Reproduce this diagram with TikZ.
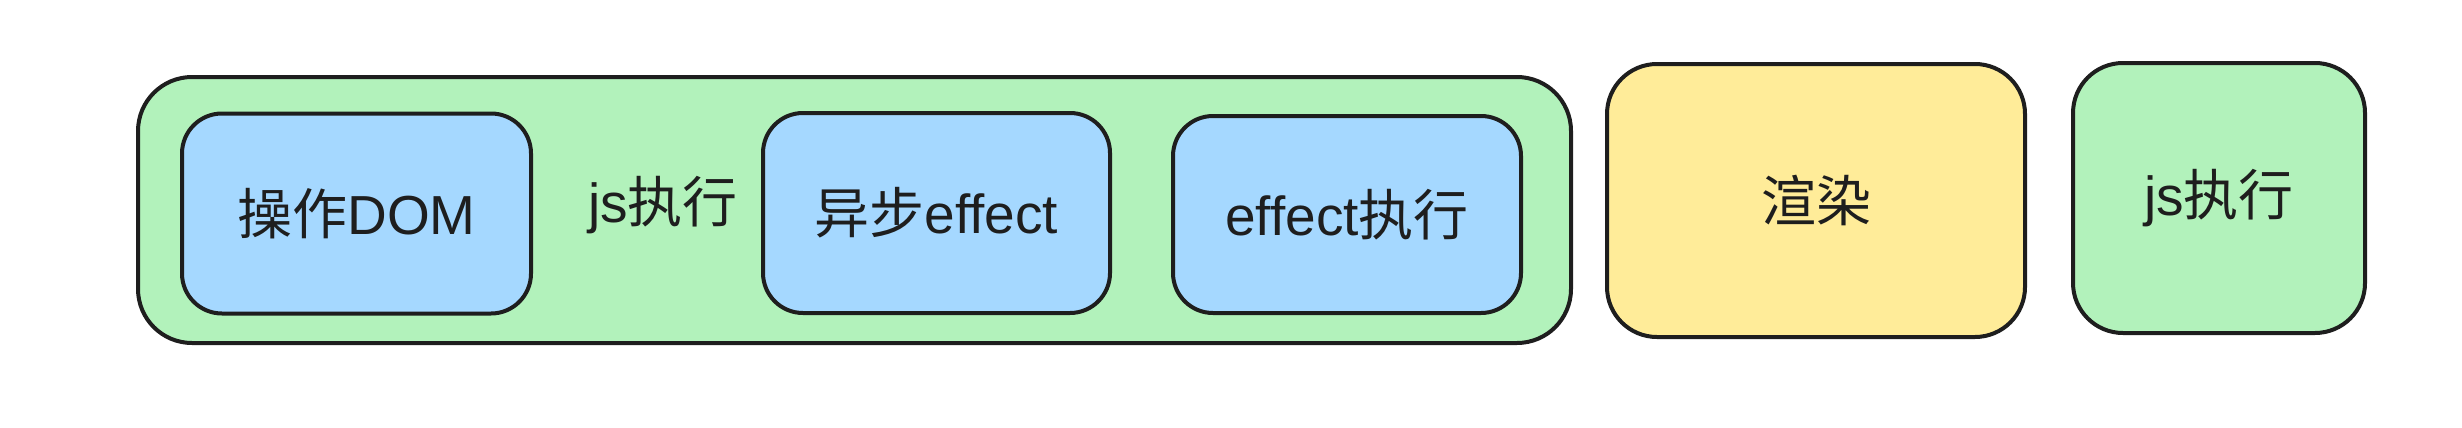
\documentclass[tikz,border=0pt]{standalone}
\usepackage{fontspec}
\setmainfont{Liberation Sans}
\newfontfamily\cjk{Noto Sans CJK SC}

\definecolor{inkblack}{HTML}{1E1E1E}
\definecolor{jsgreen}{HTML}{B2F2BB}
\definecolor{effectblue}{HTML}{A5D8FF}
\definecolor{renderyellow}{HTML}{FFEC99}

\tikzset{
  phasebox/.style={draw=inkblack, line width=2pt, rounded corners=25pt, inner sep=0pt,
    text=inkblack, font=\fontsize{27.5}{33}\selectfont},
  taskbox/.style={phasebox, fill=effectblue, rounded corners=20pt},
}

\begin{document}
\begin{tikzpicture}[x=0.5pt,y=-0.5pt]
\useasboundingbox (0,0) rectangle (2462,428);

%%%%%%%%%%%%%%%%%%%%%%%%%%%%%%%%%%%%%%%%%%%%%%%%%%%%%%%%%%%%%%%%%
%%%%%%%%%%%%%%%%%%%%%%%%%%%%%%
\node [phasebox, fill=jsgreen, rounded corners=27pt, minimum width=716.5pt, minimum height=133pt] (jsrun) at (854.5,210) {};

\node [taskbox, minimum width=174.5pt, minimum height=100pt] (dom) at (356.5,213.5) {{\cjk 操作}DOM};
\node [text=inkblack, font=\fontsize{27.5}{33}\selectfont] (jslabel) at (663,205) {js{\cjk 执行}};
\node [taskbox, minimum width=173.5pt, minimum height=100pt] (asynceffect) at (936.5,213) {{\cjk 异步}effect};
\node [taskbox, minimum width=174pt, minimum height=98.5pt] (effectrun) at (1347,214.5) {effect{\cjk 执行}};


\node [phasebox, fill=renderyellow, minimum width=209pt, minimum height=136.5pt] (render) at (1816,200.5) {\cjk 渲染};

\node [phasebox, fill=jsgreen, minimum width=146pt, minimum height=135pt] (jsnext) at (2219,198) {js{\cjk 执行}};

%%%%%%%%%%%%%%%%%%%%%%%%%%%%%%%%%%%%%%%%%%%%%%%%%%%%%%%%%%%%%%%%%

\end{tikzpicture}
\end{document}
